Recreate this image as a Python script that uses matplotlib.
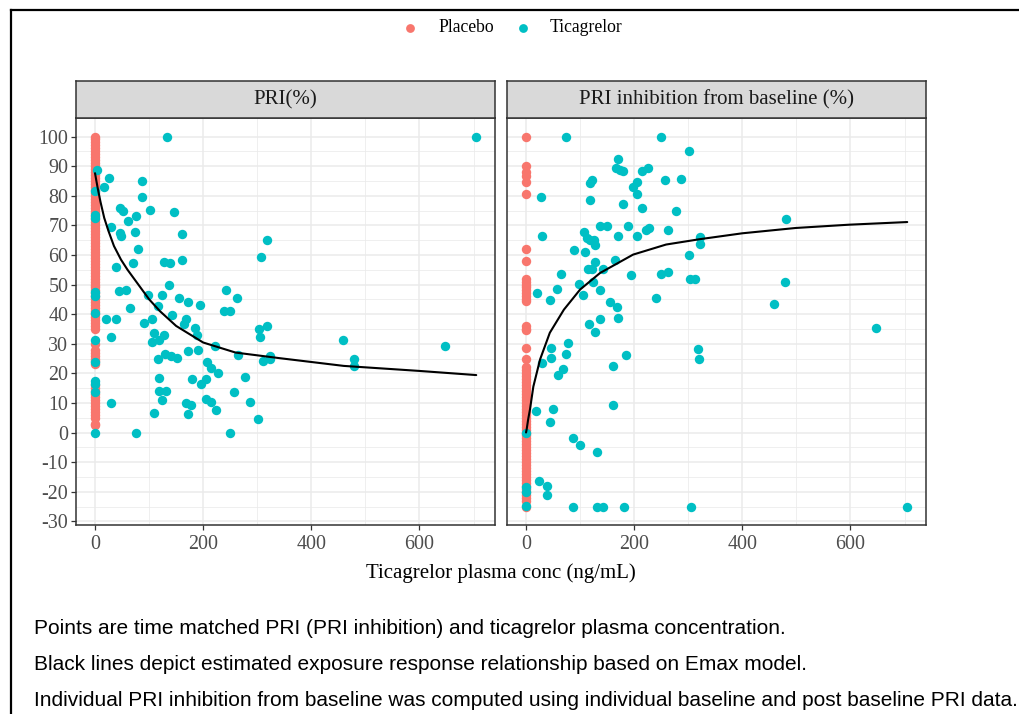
import matplotlib
matplotlib.use("Agg")
import matplotlib.pyplot as plt

plt.rcParams["axes.unicode_minus"] = False

# ---------------- data ----------------
# Left panel: PRI (%)
pla_pri_conc = [0] * 87
pla_pri_val = [100, 99, 98, 97, 96, 95, 94, 93, 92, 91, 90, 89, 88, 87, 86, 85, 84, 83, 82, 81,
               80, 79, 78, 77, 76, 75, 74, 73, 72, 71, 70, 69, 68, 67, 66, 65, 64, 63, 62, 61,
               60, 59, 58, 57, 56, 55, 54, 53, 52, 51, 50, 49, 48, 47, 46, 45, 44, 43, 42, 41,
               40, 39, 38, 37, 36, 35, 30, 28, 27, 26, 25, 24, 23, 16, 15, 14, 13, 12, 11, 10,
               9, 8, 7, 6, 5, 3, 2.5]

tic_pri_conc = [3.7, 0, 0, 0, 0, 0, 0, 0, 0, 0, 0, 0, 0,
                134, 26.4, 17, 86, 86.6, 46, 51, 101, 145.6, 75.6, 61.4, 29.5, 46, 48, 73, 161.6,
                78.6, 38, 70.7, 127.8, 138, 161.6, 136.9, 44.8, 57, 98, 123.4, 155.5, 171.9, 194,
                65, 116.7, 241.5, 263, 238.4, 249, 318.3, 307.8, 20, 38.7, 89.7, 106, 143, 167.7,
                164.6, 184, 303, 318,
                29.5, 109, 106, 118.5, 127.8, 116.7, 129, 140, 151, 171.9, 191, 189, 221, 207.7,
                214, 227, 204.6, 196.7, 180, 118.5, 118.5, 131, 123, 167.7, 177, 171.9, 204.6,
                214, 224, 109, 75.6, 29.5, 249, 256.8, 276.5, 286, 301.7, 264, 306, 311, 324, 323,
                704, 458, 479, 479, 648]
tic_pri_val = [88.7, 81.5, 73.5, 72.5, 47.3, 46, 40.5, 31.4, 23.7, 17.4, 16.3, 13.6, 0,
               100, 86, 83.1, 84.8, 79.7, 75.8, 75, 75.3, 74.5, 73.2, 71.3, 69.3, 67.4, 66.5, 67.7, 67.2,
               62, 56, 57.1, 57.6, 57.3, 58.4, 49.7, 47.7, 48, 46.4, 46.6, 45.5, 44, 43.2,
               41.9, 42.7, 48, 45.5, 41, 41.2, 65.1, 59.2, 38.4, 38.2, 37.1, 38.4, 39.6, 38.5,
               36.5, 35.4, 34.8, 35.9,
               32.4, 33.7, 30.5, 31.4, 32.9, 24.9, 26.6, 25.8, 25.3, 27.5, 27.8, 33.1, 29.2, 23.8,
               21.9, 20, 18.2, 16.3, 18, 18.3, 14, 14, 10.9, 10.1, 9.2, 6.2, 11.2,
               10.3, 7.6, 6.7, 0, 9.8, 0, 13.7, 18.9, 10.3, 4.5, 26.2, 32.4, 24.1, 26, 24.7,
               100, 31.4, 24.9, 22.5, 29.2]

# Right panel: PRI inhibition from baseline (%)
pla_inh_conc = [0] * 69
pla_inh_val = [100, 90, 88, 86.5, 84.5, 80.5, 62, 58, 52, 51, 50, 49, 48, 47, 46, 45, 44.5,
               36, 35, 34.5, 28.5, 25, 22, 21, 20, 19, 18, 17, 16, 15, 14, 13, 12, 11, 10, 9,
               8, 7, 6, 5, 4, 3, 2, 1, 0, -1, -2, -3, -4, -5, -6, -7, -8, -9, -10, -11, -12,
               -13, -14, -15, -16, -17, -18, -19, -20, -21, -22, -23, -25]

tic_inh_conc = [0, 0, 0, 0,
                73.9, 248.7, 301, 170.5, 165.6, 173.6, 179.7, 213.6, 224.7, 121.3, 118.2, 256.7,
                286, 204.4, 197, 205.5, 27.7, 118.2, 178.5, 213.6, 277, 136.7, 150, 189, 221, 227,
                262.8, 29, 107, 113, 125.6, 118.2, 170.5, 206, 321, 321, 127.4, 109, 89.2, 301,
                164.4, 127.4, 115, 121.3, 141.6, 64, 193.3, 248.7, 262.8, 302.9, 312, 123, 97.9,
                56.6, 19.7, 105.9, 136.7, 44.3, 239.5, 155, 167.4, 170.5, 117, 127.4, 136.7, 46,
                45.6, 77, 73.9, 29, 68.9, 59.6, 184.7, 160, 318, 319.5, 18.5, 50.4, 44.3, 160,
                86.2, 99.7, 130.5, 24.6, 38.2, 38.2, 86.2, 130.5, 141.6, 181.2, 305.5,
                480, 479.6, 458.6, 647.6, 704]
tic_inh_val = [0, -18.5, -20.2, -24.7,
               100, 100, 95.1, 92.3, 89.5, 88.7, 88.2, 88.4, 89.3, 85.4, 84.3, 85.4,
               85.7, 84.5, 83.1, 80.7, 79.5, 78.6, 77.3, 75.8, 75, 69.9, 69.9, 69.9, 68.5, 69.1,
               68.5, 66.3, 67.7, 65.7, 65.1, 64.9, 66.3, 66.5, 66, 63.8, 63.5, 60.9, 61.8, 60.1,
               58.4, 57.5, 55.4, 55.3, 55.4, 53.4, 53.1, 53.4, 54.1, 51.9, 51.7, 50.8, 50.3,
               48.6, 47.2, 46.6, 48.3, 44.6, 45.5, 44, 42.5, 38.8, 36.8, 34, 38.2, 28.6,
               25.3, 30.1, 26.4, 23.4, 21.6, 19.3, 26.1, 22.5, 28.3, 24.7, 7.3, 7.9, 3.6, 9.3,
               -1.7, -4.3, -6.5, -16.3, -18, -21, -25, -25, -25, -25, -25,
               72.2, 50.9, 43.5, 35.4, -25]

# Emax model lines
fit_pri_conc = [0, 2, 5, 10, 17, 25, 35, 48, 60, 78, 100, 120, 150, 200, 260, 342, 460, 600, 705]
fit_pri_val = [87.6, 85.5, 82.5, 78, 72.5, 68, 63, 58.4, 55, 50.5, 45, 41, 36, 30.4, 27, 25.1, 22.5, 20.8, 19.4]
fit_inh_conc = [0, 1.2, 4, 7.4, 13.5, 26, 44, 70, 100, 137, 198, 259, 321, 400, 499, 597, 705]
fit_inh_val = [0, 1.1, 4.5, 7.9, 15.5, 24.7, 33.7, 41.5, 48.3, 53.9, 60.1, 63.5, 65.3, 67.3, 69.1, 70.2, 71.1]

groups = ["Placebo", "Ticagrelor"]
colors = {"Placebo": "#F8766D", "Ticagrelor": "#00BFC4"}
panel_titles = ["PRI(%)", "PRI inhibition from baseline (%)"]
x_ticks = [0, 200, 400, 600]
x_minor = [100, 300, 500, 700]
y_ticks = [100, 90, 80, 70, 60, 50, 40, 30, 20, 10, 0, -10, -20, -30]
y_minor = [95, 85, 75, 65, 55, 45, 35, 25, 15, 5, -5, -15, -25]
x_title = "Ticagrelor plasma conc (ng/mL)"
notes = ["Points are time matched PRI (PRI inhibition) and ticagrelor plasma concentration.",
         "Black lines depict estimated exposure response relationship based on Emax model.",
         "Individual PRI inhibition from baseline was computed using individual baseline and post baseline PRI data."]

# ---------------- figure ----------------
W, H = 1019, 714
fig = plt.figure(figsize=(W / 100, H / 100), dpi=100)
SERIF = ["Liberation Serif", "DejaVu Serif"]
SANS = ["Liberation Sans", "DejaVu Sans"]


def box(x0, y0, x1, y1):
    return [x0 / W, 1 - y1 / H, (x1 - x0) / W, (y1 - y0) / H]


panel_px = [(76, 495), (507, 926)]
ptop, pbot, stop = 118, 525, 81
xlim = (-35.2, 739.7)
ylim = (-31.25, 106.25)
MS = 46

panels = [
    (pla_pri_conc, pla_pri_val, tic_pri_conc, tic_pri_val, fit_pri_conc, fit_pri_val),
    (pla_inh_conc, pla_inh_val, tic_inh_conc, tic_inh_val, fit_inh_conc, fit_inh_val),
]

for i, (x0, x1) in enumerate(panel_px):
    ax = fig.add_axes(box(x0, ptop, x1, pbot))
    pc, pv, tc, tv, fc, fv = panels[i]
    ax.scatter(pc, pv, s=MS, color=colors["Placebo"], linewidths=0, zorder=3)
    ax.scatter(tc, tv, s=MS, color=colors["Ticagrelor"], linewidths=0, zorder=3)
    ax.plot(fc, fv, color="black", lw=1.5, zorder=4, solid_capstyle="round")
    ax.set_xlim(*xlim)
    ax.set_ylim(*ylim)
    ax.set_xticks(x_ticks)
    ax.set_xticks(x_minor, minor=True)
    ax.set_yticks(y_ticks)
    ax.set_yticks(y_minor, minor=True)
    ax.grid(True, which="major", color="#EBEBEB", lw=1.1, zorder=0)
    ax.grid(True, which="minor", color="#EBEBEB", lw=0.55, zorder=0)
    ax.set_axisbelow(True)
    for sp in ax.spines.values():
        sp.set_color("#333333")
        sp.set_linewidth(1.1)
    ax.tick_params(which="minor", length=0)
    ax.tick_params(which="major", length=3.5, width=0.9, color="#333333",
                   labelcolor="#4D4D4D", labelsize=14.4, pad=2)
    ax.tick_params(axis="x", which="major", pad=3.5)
    for lab in ax.get_xticklabels() + ax.get_yticklabels():
        lab.set_family(SERIF)
    if i == 1:
        ax.tick_params(axis="y", which="both", left=False, labelleft=False)
    # strip
    sax = fig.add_axes(box(x0, stop, x1, ptop))
    sax.set_facecolor("#D9D9D9")
    sax.set_xticks([])
    sax.set_yticks([])
    for sp in sax.spines.values():
        sp.set_color("#333333")
        sp.set_linewidth(1.1)
    sax.text(0.5, 0.5, panel_titles[i], ha="center", va="center", fontsize=15,
             color="#1A1A1A", family=SERIF, transform=sax.transAxes)

# axis title
fig.text(501 / W, 1 - 573 / H, x_title, ha="center", va="center", fontsize=15,
         family=SERIF, color="black")

# overlay for legend, frame and notes
ov = fig.add_axes([0, 0, 1, 1], zorder=-1)
ov.set_xlim(0, W)
ov.set_ylim(H, 0)
ov.axis("off")
ov.plot([11, 11], [10, H], color="black", lw=1.6)
ov.plot([11, W], [10, 10], color="black", lw=1.6)

leg_x = [(410, 438), (523, 550)]
for (mx, tx), g in zip(leg_x, groups):
    ov.scatter([mx], [28], s=40, color=colors[g], linewidths=0)
    ov.text(tx, 28, g, ha="left", va="center", fontsize=12.7, family=SERIF, color="black")

for k, line in enumerate(notes):
    ov.text(34, 628 + 36 * k, line, ha="left", va="center", fontsize=15,
            family=SANS, color="black")

fig.savefig("out.png", dpi=100, facecolor="white")
